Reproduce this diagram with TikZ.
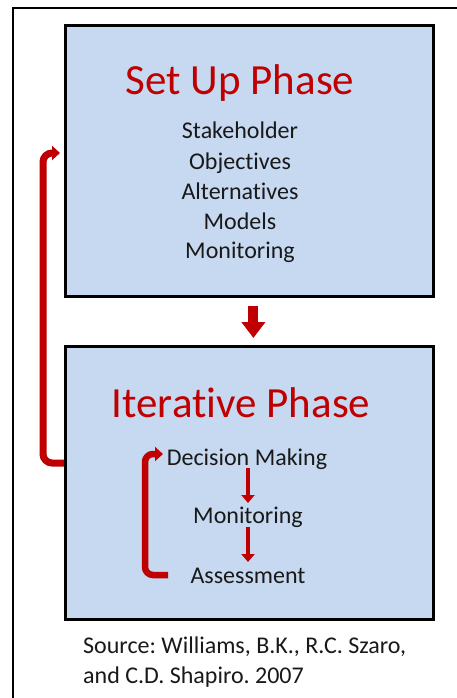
\documentclass[tikz,border=0pt]{standalone}
\usepackage{fontspec}
\setmainfont{Carlito}[Ligatures={NoCommon}]
\frenchspacing
\usetikzlibrary{arrows.meta,calc}
\definecolor{boxblue}{HTML}{C6D9F1}
\definecolor{dred}{HTML}{C00000}
\tikzset{
  phasebox/.style={draw=black,line width=2.8pt,fill=boxblue,minimum width=368pt,minimum height=271pt,inner sep=0pt},
  phasetitle/.style={text=dred,font=\fontsize{43}{50}\selectfont,anchor=base,inner sep=0pt},
  item/.style={font=\fontsize{24}{28}\selectfont,anchor=base,inner sep=0pt,text=black!90},
  bigarrow/.style={draw=dred,line width=10pt,-{Triangle[width=23pt,length=16pt]}},
  looparrow/.style={draw=dred,line width=7pt,rounded corners=9pt,-{Triangle[width=14pt,length=8pt]}},
  smallarrow/.style={draw=dred,line width=4pt,-{Triangle[width=13pt,length=8pt]}},
  srctext/.style={font=\fontsize{24}{28}\selectfont,anchor=base west,inner sep=0pt,text=black!90}
}
\begin{document}
\begin{tikzpicture}[x=1pt,y=-1pt]
\useasboundingbox (0,0) rectangle (457,698);
\fill[white] (0,0) rectangle (457,698);
% outer frame (clipped at right and bottom)
\draw[line width=2pt] (13,710) -- (13,8) -- (470,8);
% boxes
\node[phasebox,anchor=north west] (setup) at (64,24) {};
\node[phasebox,anchor=north west,minimum height=273pt] (iter) at (64,345) {};
% set up phase text
\node[phasetitle] (t1) at (240,95) {Set Up Phase};
\node[item] (s1) at (240,139) {Stakeholder};
\node[item] (s2) at (240,169) {Objectives};
\node[item] (s3) at (240,199) {Alternatives};
\node[item] (s4) at (240,229) {Models};
\node[item] (s5) at (240,258) {Monitoring};
% iterative phase text
\node[phasetitle] (t2) at (241,417) {Iterative Phase};
\node[item] (dm) at (247,465) {Decision Making};
\node[item] (mon) at (248,523) {Monitoring};
\node[item] (ass) at (248,583) {Assessment};
% source
\node[srctext] (src1) at (83,653) {Source: Williams, B.K., R.C. Szaro,};
\node[srctext] (src2) at (83,683) {and C.D. Shapiro. 2007};
% arrow between boxes
\draw[bigarrow] ($(setup.south)+(4,8)$) -- ($(iter.north)+(4,-7)$);
% big feedback loop
\coordinate (bl1) at (43,463);
\coordinate (bl2) at (43,153);
\coordinate (bltip) at (60,153);
\draw[looparrow] (iter.west |- bl1) -- (bl1) -- (bl2) -- (bltip);
% inner loop
\coordinate (il1) at (145,575);
\coordinate (il2) at (145,454);
\coordinate (iltip) at (163,454);
\draw[looparrow,line width=6.5pt,rounded corners=8pt] (168,575) -- (il1) -- (il2) -- (iltip);
% small arrows
\draw[smallarrow] ($(dm.base)+(1,3)$) -- ($(mon.base)+(0,-20)$);
\draw[smallarrow] ($(mon.base)+(0,4)$) -- ($(ass.base)+(0,-21)$);
\end{tikzpicture}
\end{document}
